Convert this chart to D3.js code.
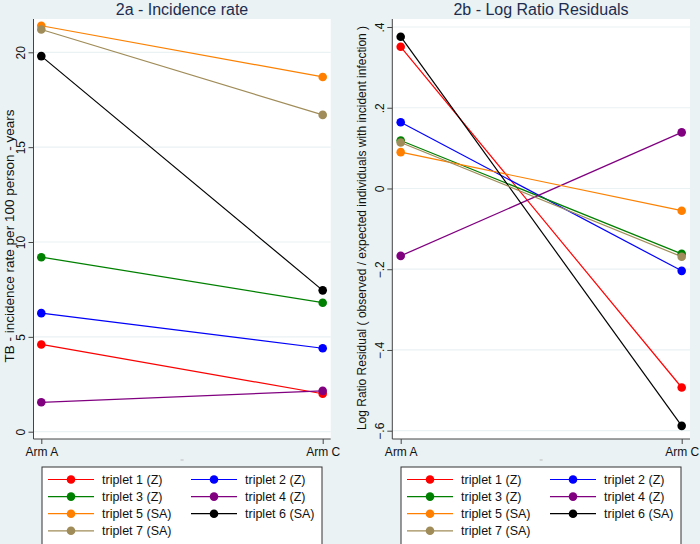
<!DOCTYPE html>
<html><head><meta charset="utf-8">
<script src="https://cdn.jsdelivr.net/npm/d3@7"></script>
<style>body{margin:0;background:#eaf2f3;}svg{display:block;font-family:"Liberation Sans",Arial,sans-serif;}</style>
</head><body><svg id="c" width="700" height="544"></svg>
<script>
const arms = ["Arm A", "Arm C"];
const seriesNames = ["triplet 1 (Z)", "triplet 2 (Z)", "triplet 3 (Z)", "triplet 4 (Z)", "triplet 5 (SA)", "triplet 6 (SA)", "triplet 7 (SA)"];
const seriesColors = ["#ff0000", "#0000ff", "#008000", "#800080", "#ff8000", "#000000", "#a08c58"];
const incidenceArmA = [4.6, 6.25, 9.2, 1.55, 21.4, 19.8, 21.2];
const incidenceArmC = [2.0, 4.4, 6.8, 2.15, 18.7, 7.45, 16.7];
const residualArmA = [0.351, 0.164, 0.119, -0.167, 0.090, 0.376, 0.114];
const residualArmC = [-0.493, -0.204, -0.162, 0.139, -0.055, -0.588, -0.169];
const incidenceTicks = [0, 5, 10, 15, 20];
const residualTicks = [-0.6, -0.4, -0.2, 0, 0.2, 0.4];

const svg = d3.select("#c");
svg.append("rect").attr("width", 700).attr("height", 544).attr("fill", "#eaf2f3");

function panel(opt) {
  const g = svg.append("g");
  const {x0, x1, y0, y1} = opt.plot;
  g.append("rect").attr("x", x0).attr("y", y0).attr("width", x1 - x0).attr("height", y1 - y0).attr("fill", "#fff");
  const x = d3.scalePoint().domain(arms).range(opt.xr);
  const y = d3.scaleLinear().domain(opt.ydom).range(opt.yr);
  // gridlines
  g.selectAll("line.grid").data(opt.ticks).join("line")
    .attr("x1", x0).attr("x2", x1).attr("y1", d => y(d)).attr("y2", d => y(d))
    .attr("stroke", "#eaf2f3").attr("stroke-width", 1.2);
  // y axis
  const ya = d3.axisLeft(y).tickValues(opt.ticks).tickSize(5).tickFormat(opt.fmt);
  const yg = g.append("g").attr("transform", `translate(${x0},0)`).call(ya);
  yg.select(".domain").attr("d", `M0,${y0}V${y1}`).attr("stroke", "#444");
  yg.selectAll(".tick line").attr("stroke", "#444");
  yg.selectAll(".tick text")
    .attr("font-size", 12).attr("fill", "#111")
    .attr("x", 0).attr("y", 0).attr("dy", 0)
    .attr("text-anchor", "middle")
    .attr("transform", "translate(-8.5,0) rotate(-90)");
  // x axis
  const xa = d3.axisBottom(x).tickSize(5).tickPadding(3);
  const xg = g.append("g").attr("transform", `translate(0,${y1})`).call(xa);
  xg.select(".domain").attr("d", `M${x0},0H${x1}`).attr("stroke", "#444");
  xg.selectAll(".tick line").attr("stroke", "#444");
  xg.selectAll(".tick text").attr("font-size", 12).attr("fill", "#111");
  // faint empty x title mark
  g.append("line").attr("x1", (x0 + x1) / 2 - 1.5).attr("x2", (x0 + x1) / 2 + 1.5)
    .attr("y1", 460).attr("y2", 460).attr("stroke", "#bbb").attr("stroke-width", 1);
  // y title
  g.append("text").attr("transform", `translate(${opt.ytx},${opt.ytc}) rotate(-90)`)
    .attr("text-anchor", "middle").attr("font-size", opt.ytfs).attr("fill", "#111").text(opt.ytitle);
  // title
  g.append("text").attr("x", opt.titleX).attr("y", 15).attr("text-anchor", "middle")
    .attr("font-size", 16).attr("fill", "#1e2d4f").text(opt.title);
  // series
  seriesNames.forEach((s, i) => {
    const pts = [[arms[0], opt.a[i]], [arms[1], opt.c[i]]];
    g.append("path").attr("d", d3.line().x(d => x(d[0])).y(d => y(d[1]))(pts))
      .attr("fill", "none").attr("stroke", seriesColors[i]).attr("stroke-width", 1.2);
  });
  seriesNames.forEach((s, i) => {
    const pts = [[arms[0], opt.a[i]], [arms[1], opt.c[i]]];
    g.selectAll(null).data(pts).join("circle").attr("cx", d => x(d[0])).attr("cy", d => y(d[1]))
      .attr("r", 4.3).attr("fill", seriesColors[i]);
  });
  // legend
  const lx = opt.legX;
  const lg = g.append("g");
  lg.append("rect").attr("x", lx).attr("y", 467).attr("width", 280).attr("height", 90)
    .attr("fill", "#fff").attr("stroke", "#333").attr("stroke-width", 1);
  seriesNames.forEach((s, i) => {
    const col = i % 2, row = Math.floor(i / 2);
    const bx = lx + 6 + col * 143, by = 479.5 + row * 17.1;
    lg.append("line").attr("x1", bx).attr("x2", bx + 46).attr("y1", by).attr("y2", by)
      .attr("stroke", seriesColors[i]).attr("stroke-width", 1.2);
    lg.append("circle").attr("cx", bx + 23).attr("cy", by).attr("r", 4.3).attr("fill", seriesColors[i]);
    lg.append("text").attr("x", bx + 54).attr("y", by + 4.5).attr("font-size", 12.5).attr("fill", "#111").text(s);
  });
}

panel({
  plot: {x0: 33.5, x1: 330.7, y0: 19, y1: 439},
  xr: [41.3, 322.7], ydom: [0, 20], yr: [431.7, 52.3], ticks: incidenceTicks,
  fmt: d3.format("d"), a: incidenceArmA, c: incidenceArmC,
  ytitle: "TB - incidence rate per 100 person - years", ytx: 14, ytc: 236, ytfs: 13.5,
  title: "2a - Incidence rate", titleX: 182, legX: 42
});
panel({
  plot: {x0: 392.3, x1: 690, y0: 19, y1: 439},
  xr: [400.7, 681.7], ydom: [-0.6, 0.4], yr: [430.7, 27], ticks: residualTicks,
  fmt: d => d === 0 ? "0" : d3.format(".1f")(d).replace("0.", "."), a: residualArmA, c: residualArmC,
  ytitle: "Log Ratio Residual ( observed / expected individuals with incident infection )", ytx: 366, ytc: 228, ytfs: 12,
  title: "2b - Log Ratio Residuals", titleX: 541, legX: 401
});
</script></body></html>
